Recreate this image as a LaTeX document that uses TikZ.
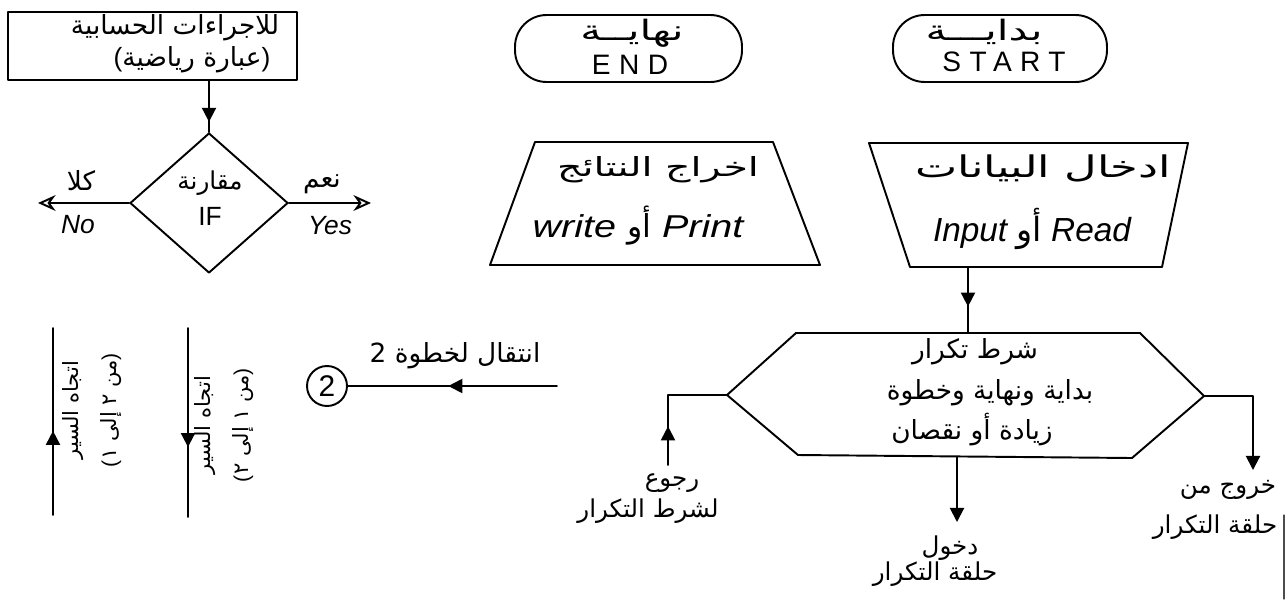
\documentclass[tikz,border=0pt]{standalone}
\usepackage{fontspec}
\setmainfont{Liberation Sans}
\newfontfamily\arabicfont[Script=Arabic]{DejaVu Sans}
\newfontfamily\arabicwide[Script=Arabic,FakeStretch=1.5]{DejaVu Sans}
\newfontfamily\spacedfont[LetterSpace=30]{Liberation Sans}
\newfontfamily\latinwide[FakeStretch=1.25]{Liberation Sans}
\TeXXeTstate=1
\usetikzlibrary{arrows.meta,decorations.markings,shapes.geometric}
\newcommand\artxt[1]{{\arabicfont\upshape\beginR #1\endR}}
\newcommand\arwide[1]{{\arabicwide\upshape\beginR #1\endR}}
\newcommand\fsz[1]{\fontsize{#1}{#1}\selectfont}

\begin{document}
\begin{tikzpicture}[x=0.02cm,y=-0.02cm,
  line width=1.1pt, line cap=round, line join=round,
  shp/.style={draw=black, line width=1.1pt, inner sep=0pt},
  lbl/.style={inner sep=0pt, align=center},
  midarr/.style={postaction={decorate},
    decoration={markings, mark=at position #1 with {\arrow{Triangle[length=8pt,width=8pt]}}}},
  tiparr/.style={-{Triangle[length=8pt,width=8pt]}},
  openarr/.style={-{Stealth[length=10pt,width=9pt,open]}}
]
\fill[white] (0,0) rectangle (1288,599);
\useasboundingbox (0,0) rectangle (1288,599);

% ---------- process box ----------
\node[shp, rectangle, minimum width=5.78cm, minimum height=1.36cm] (calc) at (152.5,46) {};
\node[lbl, font={\fsz{15}}] (calc1) at (175,28) {\artxt{للاجراءات الحسابية}};
\node[lbl, font={\fsz{15}}] (calc2) at (192,60) {(\artxt{عبارة رياضية})};

% ---------- decision ----------
\node[shp, diamond, minimum width=3.16cm, minimum height=2.8cm] (dia) at (209,203) {};
\node[lbl, font={\fsz{14}}] (diaar) at (210,183) {\artxt{مقارنة}};
\node[lbl, font={\fsz{15}}] (diala) at (210,216) {IF};
\draw[midarr=0.8] (calc.south -| dia.north) -- (dia.north);

\coordinate (noend) at (38,203);
\coordinate (yesend) at (371,203);
\draw[openarr] (dia.west) -- (noend);
\draw[openarr] (dia.east) -- (yesend);
\node[lbl, font={\fsz{15}}] (noar) at (81,181) {\artxt{كلا}};
\node[lbl, font={\fsz{15}\itshape}] (nola) at (78,225) {No};
\node[lbl, font={\fsz{15}}] (yesar) at (322,184) {\artxt{نعم}};
\node[lbl, font={\fsz{15}\itshape}] (yesla) at (330,226) {Yes};

% ---------- terminals ----------
\node[shp, rectangle, rounded corners=18pt, minimum width=4.54cm, minimum height=1.34cm] (endn) at (628.5,48.5) {};
\node[lbl, font={\fsz{16}}] (endar) at (632,33) {\arwide{نهايــة}};
\node[lbl, font={\fsz{16}\spacedfont}] (endla) at (630,65) {END};

\node[shp, rectangle, rounded corners=18pt, minimum width=4.28cm, minimum height=1.34cm] (startn) at (1000,48.5) {};
\node[lbl, font={\fsz{16}}] (startar) at (984,32) {\arwide{بدايـــة}};
\node[lbl, font={\fsz{16}\spacedfont}] (startla) at (1004,62) {START};

% ---------- output trapezium ----------
\coordinate (wTL) at (535,142);
\coordinate (wTR) at (773,142);
\coordinate (wBR) at (820,265);
\coordinate (wBL) at (490,265);
\draw[shp] (wTL) -- (wTR) -- (wBR) -- (wBL) -- cycle;
\node[lbl, font={\fsz{15}}] (outar) at (658,170) {\arwide{اخراج النتائج}};
\node[lbl, font={\fsz{18}\latinwide\itshape}] (outla) at (638,226) {write \artxt{أو} Print};

% ---------- input trapezium ----------
\coordinate (iTL) at (869,143);
\coordinate (iTR) at (1188,143);
\coordinate (iBR) at (1162,267);
\coordinate (iBL) at (910,267);
\draw[shp] (iTL) -- (iTR) -- (iBR) -- (iBL) -- cycle;
\coordinate (iB) at (968,267);
\node[lbl, font={\fsz{17}}] (inar) at (1043,168) {\arwide{ادخال البيانات}};
\node[lbl, font={\fsz{19}\itshape}] (inla) at (1032,229) {Input \artxt{أو} Read};

% ---------- loop preparation hexagon ----------
\coordinate (hL) at (727,395);
\coordinate (hTL) at (796,333);
\coordinate (hTR) at (1140,333);
\coordinate (hR) at (1204,396);
\coordinate (hBR) at (1132,458);
\coordinate (hBL) at (798,455);
\coordinate (hT) at (968,333);
\coordinate (hB) at (957,457);
\draw[shp] (hL) -- (hTL) -- (hTR) -- (hR) -- (hBR) -- (hBL) -- cycle;
\node[lbl, font={\fsz{15}}] (hex1) at (975,352) {\artxt{شرط تكرار}};
\node[lbl, font={\fsz{15}}] (hex2) at (990,393) {\artxt{بداية ونهاية وخطوة}};
\node[lbl, font={\fsz{15}}] (hex3) at (972,430) {\artxt{زيادة أو نقصان}};
\draw[midarr=0.6] (iB) -- (hT);

% return branch
\coordinate (lbEnd) at (668,465);
\draw[midarr=0.3] (lbEnd) |- (hL);
\node[lbl, font={\fsz{14}}] (lb1) at (672,483) {\artxt{رجوع}};
\node[lbl, font={\fsz{14}}] (lb2) at (648,511) {\artxt{لشرط التكرار}};

% entry branch
\coordinate (mbEnd) at (957,522);
\draw[tiparr] (hB) -- (mbEnd);
\node[lbl, font={\fsz{14}}] (mb1) at (950,548) {\artxt{دخول}};
\node[lbl, font={\fsz{14}}] (mb2) at (935,574) {\artxt{حلقة التكرار}};

% exit branch
\coordinate (rbEnd) at (1253,470);
\draw[tiparr] (hR) -| (rbEnd);
\node[lbl, font={\fsz{14}}] (rb1) at (1228,490) {\artxt{خروج من}};
\node[lbl, font={\fsz{14}}] (rb2) at (1215,527) {\artxt{حلقة التكرار}};

% ---------- connector ----------
\node[shp, circle, minimum size=0.8cm, font={\fsz{17}}] (c2) at (327,386) {2};
\coordinate (c2from) at (557,386);
\draw[midarr=0.52] (c2from) -- (c2);
\node[lbl, font={\fsz{15}}] (c2t) at (455,356) {\artxt{انتقال لخطوة 2}};

% ---------- flow direction lines ----------
\coordinate (v1t) at (53,328);
\coordinate (v1b) at (53,515);
\draw[midarr=0.45] (v1b) -- (v1t);
\node[lbl, rotate=90, font={\fontsize{12}{22}\selectfont}] (v1txt) at (92,410)
  {\artxt{اتجاه السير}\\(\artxt{من ٢ إلى ١})};

\coordinate (v2t) at (188,328);
\coordinate (v2b) at (188,517);
\draw[midarr=0.63] (v2t) -- (v2b);
\node[lbl, rotate=90, font={\fontsize{12}{22}\selectfont}] (v2txt) at (224,425)
  {\artxt{اتجاه السير}\\(\artxt{من ١ إلى ٢})};

% scanned page edge
\draw[line width=0.6pt, black!70] (1284,515) -- (1284,599);
\end{tikzpicture}
\end{document}
